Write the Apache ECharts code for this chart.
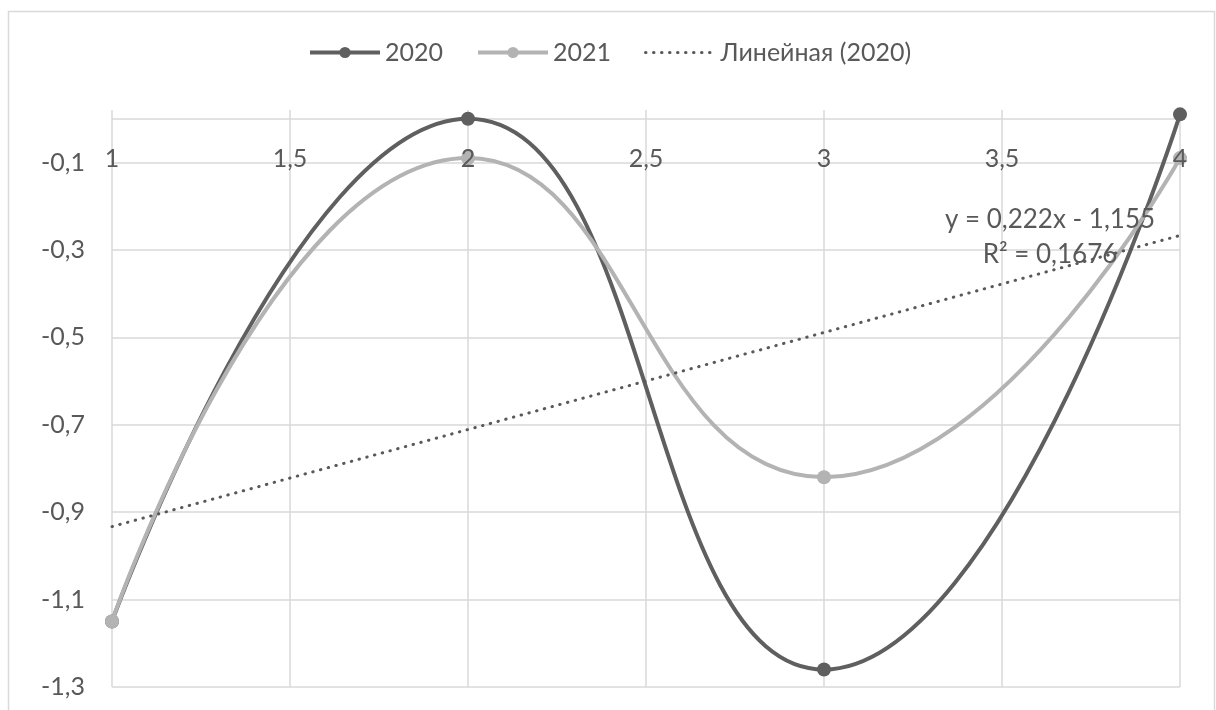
<!DOCTYPE html>
<html>
<head>
<meta charset="utf-8">
<script src="https://cdn.jsdelivr.net/npm/echarts@6/dist/echarts.min.js"></script>
<style>
html,body{margin:0;padding:0;background:#fff;}
#chart{width:1216px;height:710px;}
</style>
</head>
<body>
<div id="chart"></div>
<script>
// ---- data ----
const xValues = [1, 2, 3, 4];
const series2020 = [-1.15, 0.0, -1.26, 0.01];
const series2021 = [-1.15, -0.09, -0.82, -0.09];
const trendSlope = 0.222;
const trendIntercept = -1.155;
const trendR2 = '0,1676';
const legendNames = ['2020', '2021', 'Линейная (2020)'];
const yTickLabels = ['-1,3', '-1,1', '-0,9', '-0,7', '-0,5', '-0,3', '-0,1'];
const xTickLabels = ['1', '1,5', '2', '2,5', '3', '3,5', '4'];

const pair = (xs, ys) => xs.map((x, i) => [x, ys[i]]);
const trendData = [xValues[0], xValues[xValues.length - 1]].map(x => [x, trendSlope * x + trendIntercept]);
const fmt = v => String(Math.round(v * 10) / 10).replace('.', ',');

const FONT = 'Lato';
const TXT = '#595959';
const GRID = '#d9d9d9';
const C2020 = '#5f5f5f';
const C2021 = '#b3b3b3';
const CTREND = '#595959';
const trendLine = {color: CTREND, width: 3, type: [0.5, 7.5], cap: 'round'};
const xFormatter = v => { const s = String(v).replace('.', ','); return xTickLabels.includes(s) ? s : ''; };

const chart = echarts.init(document.getElementById('chart'), null, {renderer: 'canvas'});
chart.setOption({
  animation: false,
  backgroundColor: '#ffffff',
  textStyle: {fontFamily: FONT},
  legend: {
    left: 303, top: 35,
    itemWidth: 70, itemHeight: 14, itemGap: 33,
    textStyle: {fontSize: 25, color: TXT, fontFamily: FONT},
    data: [
      {name: legendNames[0], lineStyle: {width: 4, color: C2020}},
      {name: legendNames[1], lineStyle: {width: 4, color: C2021}},
      {name: legendNames[2], lineStyle: trendLine, itemStyle: {opacity: 0, color: 'rgba(0,0,0,0)', borderWidth: 0}}
    ]
  },
  grid: {left: 112, right: 36, top: 110, bottom: 23, containLabel: false, outerBoundsMode: 'none'},
  xAxis: [
    {
      type: 'value', min: 1, max: 4, interval: 0.5, position: 'top',
      axisLine: {show: false},
      axisTick: {show: false},
      axisLabel: {show: false},
      splitLine: {show: true, lineStyle: {color: GRID, width: 1.5}}
    },
    {
      type: 'value', min: 1, max: 4, interval: 0.5, position: 'top', z: 20,
      axisLine: {show: false},
      axisTick: {show: false},
      axisLabel: {inside: true, color: TXT, fontSize: 25, fontFamily: FONT, margin: 36, formatter: xFormatter},
      splitLine: {show: false}
    }
  ],
  yAxis: {
    type: 'value', min: -1.3, max: 0.02, interval: 0.2,
    axisLine: {show: false},
    axisTick: {show: false},
    axisLabel: {
      color: TXT, fontSize: 25, fontFamily: FONT, margin: 27, showMaxLabel: false,
      formatter: v => { const s = fmt(v); return yTickLabels.includes(s) ? s : ''; }
    },
    splitLine: {show: true, showMaxLine: false, lineStyle: {color: GRID, width: 1.5}}
  },
  series: [
    {
      name: legendNames[0], type: 'line', smooth: 0.5, clip: false, z: 3,
      xAxisIndex: 0,
      data: pair(xValues, series2020),
      symbol: 'circle', symbolSize: 14,
      lineStyle: {color: C2020, width: 4},
      itemStyle: {color: C2020}
    },
    {
      name: legendNames[1], type: 'line', smooth: 0.5, clip: false, z: 4,
      xAxisIndex: 0,
      data: pair(xValues, series2021),
      symbol: 'circle', symbolSize: 14,
      lineStyle: {color: C2021, width: 4},
      itemStyle: {color: C2021}
    },
    {
      name: legendNames[2], type: 'line', z: 5,
      xAxisIndex: 0,
      data: trendData,
      symbol: 'none',
      lineStyle: trendLine,
      itemStyle: {color: CTREND},
      markLine: {
        silent: true, symbol: 'none', z: 1,
        label: {show: false},
        lineStyle: {color: GRID, width: 1.5, type: 'solid'},
        data: [{yAxis: 0}]
      }
    }
  ],
  graphic: [
    {
      type: 'rect', silent: true, z: -1,
      shape: {x: 8.5, y: 11.5, width: 1206, height: 800},
      style: {fill: 'none', stroke: '#d9d9d9', lineWidth: 1.5}
    },
    {
      type: 'text', silent: true, z: 10,
      x: 1050, y: 237.5,
      style: {
        text: 'y = ' + String(trendSlope).replace('.', ',') + 'x - ' + String(-trendIntercept).replace('.', ',') + '\nR² = ' + trendR2,
        fill: TXT, font: '26px ' + FONT, align: 'center', verticalAlign: 'middle', lineHeight: 35
      }
    }
  ]
});
</script>
</body>
</html>
